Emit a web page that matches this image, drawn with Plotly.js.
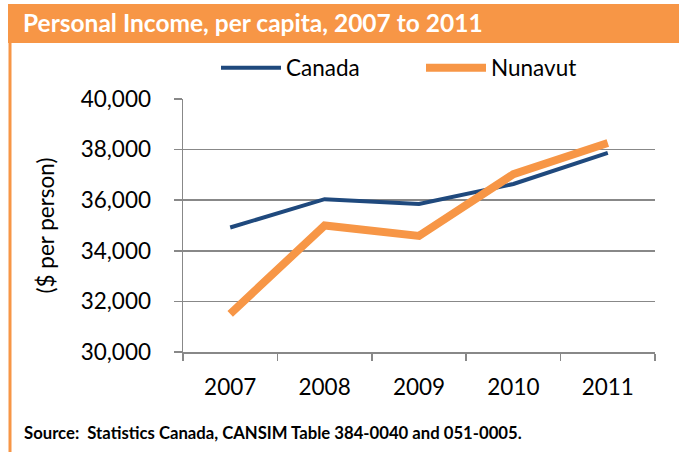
<!DOCTYPE html>
<html>
<head>
<meta charset="utf-8">
<script src="https://cdn.plot.ly/plotly-3.0.1.min.js"></script>
<style>html,body{margin:0;padding:0;background:#fff;}#chart{width:679px;height:458px;}</style>
</head>
<body>
<div id="chart"></div>
<script>
const years = ['2007', '2008', '2009', '2010', '2011'];
const canada = [34920, 36040, 35850, 36640, 37870];
const nunavut = [31510, 35000, 34590, 37030, 38260];
const titleText = 'Personal Income, per capita, 2007 to 2011';
const sourceText = 'Source:  Statistics Canada, CANSIM Table 384-0040 and 051-0005.';
const yTitle = '($ per person)';

const W = 679, H = 458;
const M = {l: 183, r: 24, t: 99, b: 106};
const pw = W - M.l - M.r, ph = H - M.t - M.b;
const px = x => (x - M.l) / pw;
const py = y => (H - M.b - y) / ph;
const FONT = 'Lato, "Open Sans", sans-serif';
const ORANGE = '#F79646';
const FS = 22.5;

const traces = [
  {x: years, y: canada, name: 'Canada', type: 'scatter', mode: 'lines',
   line: {color: '#1F497D', width: 4}},
  {x: years, y: nunavut, name: 'Nunavut', type: 'scatter', mode: 'lines',
   line: {color: ORANGE, width: 8}}
];

const layout = {
  width: W, height: H,
  margin: M,
  paper_bgcolor: '#fff', plot_bgcolor: '#fff',
  font: {family: FONT, size: FS, color: '#000'},
  showlegend: true,
  legend: {orientation: 'h', x: px(216), xanchor: 'left', y: py(68), yanchor: 'middle',
           itemwidth: 60, entrywidth: 130, entrywidthmode: 'pixels', bgcolor: 'rgba(0,0,0,0)',
           font: {family: FONT, size: FS, color: '#000'}, traceorder: 'normal'},
  xaxis: {type: 'category', range: [-0.5, 4.5], showline: true, linecolor: '#888', linewidth: 1.5,
          ticks: 'outside', tickson: 'boundaries', ticklen: 7, tickcolor: '#888', tickwidth: 1.5,
          ticklabelstandoff: 14,
          showgrid: false, zeroline: false, fixedrange: true,
          tickfont: {family: FONT, size: FS, color: '#000'}},
  yaxis: {range: [30000, 40000], dtick: 2000, tickformat: ',d', showline: true, linecolor: '#888', linewidth: 1.5,
          ticks: 'outside', ticklen: 8, tickcolor: '#888', tickwidth: 1.5,
          ticklabelstandoff: 18,
          showgrid: true, gridcolor: '#888', gridwidth: 1.5, zeroline: false, fixedrange: true,
          tickfont: {family: FONT, size: FS, color: '#000'},
          title: {text: yTitle, font: {family: FONT, size: FS, color: '#000'}, standoff: 20}},
  shapes: [
    {type: 'rect', xref: 'paper', yref: 'paper', x0: px(8), x1: px(680), y0: py(43), y1: py(4),
     fillcolor: ORANGE, line: {width: 0}, layer: 'below'},
    {type: 'line', xref: 'paper', yref: 'paper', x0: px(10), x1: px(10), y0: py(43), y1: py(452),
     line: {color: ORANGE, width: 3}}
  ],
  annotations: [
    {text: '<b>' + titleText + '</b>', xref: 'paper', yref: 'paper', x: px(21), y: py(23),
     xanchor: 'left', yanchor: 'middle', showarrow: false,
     font: {family: FONT, size: 24.5, color: '#fff'}},
    {text: '<b>' + sourceText + '</b>', xref: 'paper', yref: 'paper', x: px(22), y: py(433),
     xanchor: 'left', yanchor: 'middle', showarrow: false,
     font: {family: FONT, size: 16.7, color: '#000'}}
  ]
};

Plotly.newPlot('chart', traces, layout, {displayModeBar: false, staticPlot: true});
</script>
</body>
</html>
